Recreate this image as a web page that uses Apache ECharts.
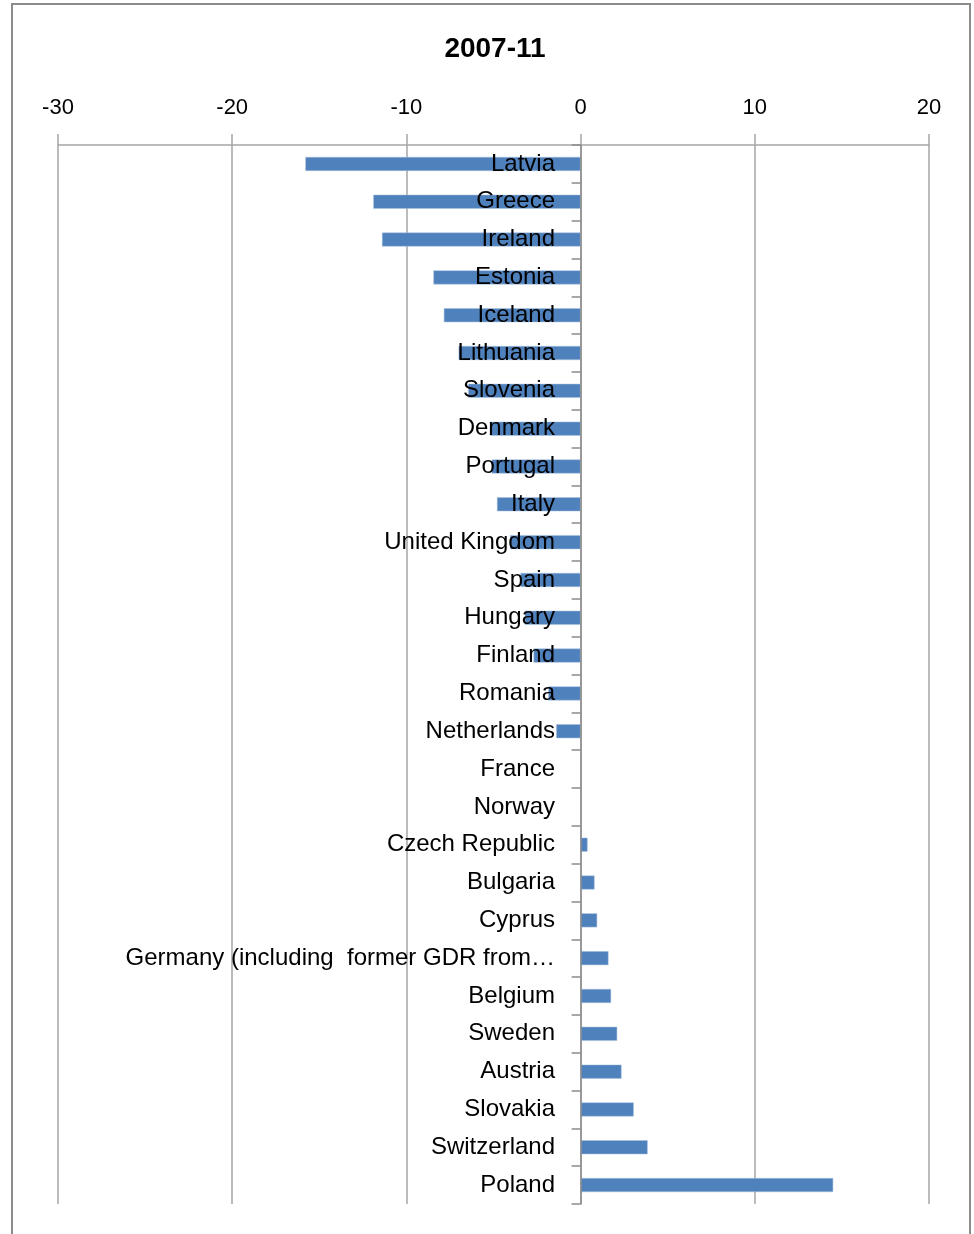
<!DOCTYPE html>
<html>
<head>
<meta charset="utf-8">
<script src="https://cdn.jsdelivr.net/npm/echarts@6/dist/echarts.min.js"></script>
<style>
html,body{margin:0;padding:0;background:#fff;}
#frame{position:absolute;left:11px;top:3px;width:960px;height:1240px;border:2px solid #8c8c8c;border-bottom:none;box-sizing:border-box;}
#chart{position:absolute;left:0;top:0;width:974px;height:1234px;}
</style>
</head>
<body>
<div id="frame"></div>
<div id="chart"></div>
<script>
var titleText = '2007-11';
var countries = ['Latvia','Greece','Ireland','Estonia','Iceland','Lithuania','Slovenia','Denmark','Portugal','Italy','United Kingdom','Spain','Hungary','Finland','Romania','Netherlands','France','Norway','Czech Republic','Bulgaria','Cyprus','Germany (including  former GDR from\u2026','Belgium','Sweden','Austria','Slovakia','Switzerland','Poland'];
var values = [-15.8,-11.9,-11.4,-8.45,-7.85,-7.0,-6.45,-5.2,-5.1,-4.8,-4.05,-3.45,-3.2,-2.7,-1.85,-1.4,0,0,0.4,0.8,0.95,1.6,1.75,2.1,2.35,3.05,3.85,14.5];
var xMin = -30, xMax = 20, xStep = 10;

var chart = echarts.init(document.getElementById('chart'), null, {renderer:'canvas'});
var font = '"Liberation Sans", Arial, sans-serif';
chart.setOption({
  animation:false,
  backgroundColor:'transparent',
  title:{text:titleText,left:490,textAlign:'center',top:30,
    textStyle:{fontFamily:font,fontSize:28,fontWeight:'bold',color:'#000'}},
  grid:{left:58,right:45,top:145,bottom:30,containLabel:false,outerBoundsMode:'none'},
  xAxis:{type:'value',position:'top',min:xMin,max:xMax,interval:xStep,
    axisLine:{show:true,lineStyle:{color:'#a6a6a6',width:1.5}},
    axisTick:{show:true,length:11,lineStyle:{color:'#a6a6a6',width:1.5}},
    splitLine:{show:true,lineStyle:{color:'#a6a6a6',width:1.5}},
    axisLabel:{fontFamily:font,fontSize:22,color:'#000',margin:26}},
  yAxis:{type:'category',inverse:true,data:countries,z:10,
    axisLine:{show:true,onZero:true,lineStyle:{color:'#8c8c8c',width:1.5}},
    axisTick:{show:true,length:9,lineStyle:{color:'#8c8c8c',width:1.5}},
    splitLine:{show:false},
    axisLabel:{fontFamily:font,fontSize:24,color:'#000',margin:-497,interval:0}},
  series:[{type:'bar',data:values,barWidth:14,z:1,
    itemStyle:{color:'#4F81BD',borderColor:'#a9c1de',borderWidth:0.5}}]
});
</script>
</body>
</html>
